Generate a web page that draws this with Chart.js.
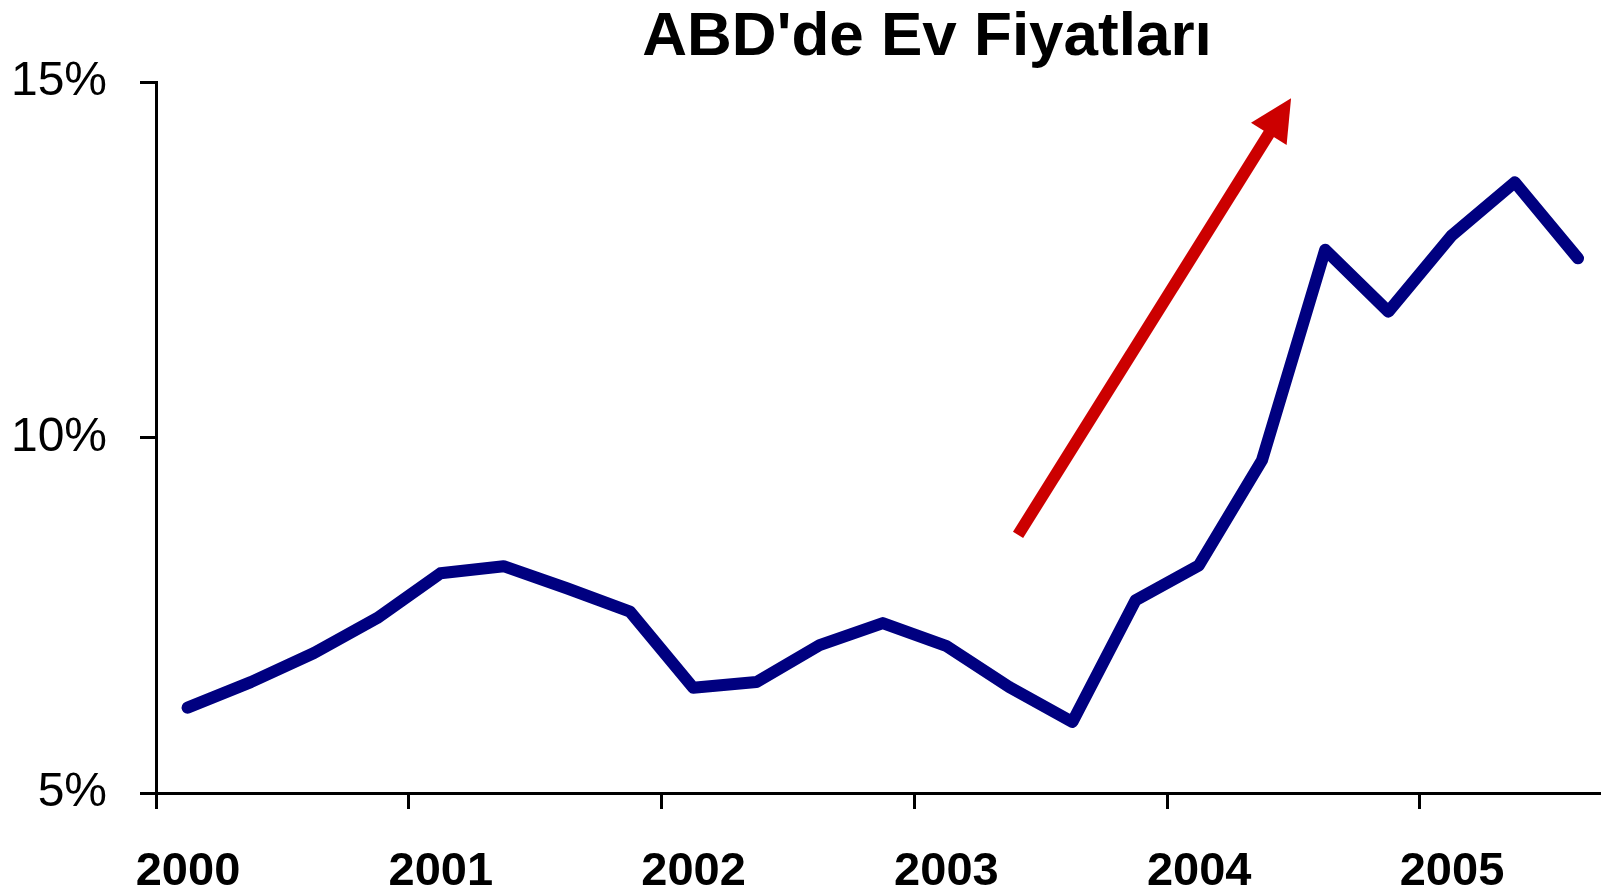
<!DOCTYPE html>
<html>
<head>
<meta charset="utf-8">
<script src="https://cdn.jsdelivr.net/npm/chart.js@4"></script>
<style>
  html, body { margin: 0; padding: 0; background: #fff; }
  #wrap { width: 1601px; height: 894px; }
</style>
</head>
<body>
<div id="wrap"><canvas id="mainChart" width="1601" height="894"></canvas></div>
<script>
const TITLE = "ABD'de Ev Fiyatları";

// quarterly observations, 2000 Q1 .. 2005 Q3
const quarters = [
  "2000 Q1", "2000 Q2", "2000 Q3", "2000 Q4",
  "2001 Q1", "2001 Q2", "2001 Q3", "2001 Q4",
  "2002 Q1", "2002 Q2", "2002 Q3", "2002 Q4",
  "2003 Q1", "2003 Q2", "2003 Q3", "2003 Q4",
  "2004 Q1", "2004 Q2", "2004 Q3", "2004 Q4",
  "2005 Q1", "2005 Q2", "2005 Q3"
];
const priceGrowth = [
  6.20, 6.56, 6.97, 7.46,
  8.09, 8.19, 7.88, 7.55,
  6.48, 6.56, 7.08, 7.39,
  7.07, 6.49, 6.00, 7.71,
  8.20, 9.68, 12.64, 11.77,
  12.84, 13.59, 12.52
];
const yearTicks = [2000, 2001, 2002, 2003, 2004, 2005];
const yTicks = [5, 10, 15];

// red trend arrow, in data units (year, %)
const arrowFrom = { x: 2003.41, y: 8.63 };
const arrowTo = { x: 2004.49, y: 14.77 };

// quarter label -> position in the middle of the quarter
function quarterToX(q) {
  const [yr, qq] = q.split(" Q");
  return Number(yr) + (Number(qq) - 0.5) / 4;
}

const points = quarters.map((q, i) => ({ x: quarterToX(q), y: priceGrowth[i] }));

const FONT = "'Liberation Sans', Arial, sans-serif";

const arrowPlugin = {
  id: "trendArrow",
  afterDatasetsDraw(chart) {
    const { ctx, scales } = chart;
    const x1 = scales.x.getPixelForValue(arrowFrom.x);
    const y1 = scales.y.getPixelForValue(arrowFrom.y);
    const x2 = scales.x.getPixelForValue(arrowTo.x);
    const y2 = scales.y.getPixelForValue(arrowTo.y);
    const ang = Math.atan2(y2 - y1, x2 - x1);
    const headLen = 42;
    const headHalf = 21;
    const bx = x2 - headLen * Math.cos(ang);
    const by = y2 - headLen * Math.sin(ang);

    ctx.save();
    ctx.strokeStyle = "#cc0000";
    ctx.fillStyle = "#cc0000";
    ctx.lineWidth = 12;
    ctx.lineCap = "butt";
    ctx.beginPath();
    ctx.moveTo(x1, y1);
    ctx.lineTo(bx + 2 * Math.cos(ang), by + 2 * Math.sin(ang));
    ctx.stroke();

    ctx.beginPath();
    ctx.moveTo(x2, y2);
    ctx.lineTo(bx + headHalf * Math.sin(ang), by - headHalf * Math.cos(ang));
    ctx.lineTo(bx - headHalf * Math.sin(ang), by + headHalf * Math.cos(ang));
    ctx.closePath();
    ctx.fill();
    ctx.restore();
  }
};

// title drawn by hand so it can sit right of centre like the original
const titlePlugin = {
  id: "offsetTitle",
  afterDraw(chart) {
    const { ctx, chartArea } = chart;
    ctx.save();
    ctx.font = "bold 62px " + FONT;
    ctx.fillStyle = "#000";
    ctx.textAlign = "center";
    ctx.textBaseline = "alphabetic";
    ctx.fillText(TITLE, chartArea.left + chartArea.width * 0.5336, 55);
    ctx.restore();
  }
};

const ctx = document.getElementById("mainChart").getContext("2d");

new Chart(ctx, {
  type: "line",
  data: {
    datasets: [{
      label: TITLE,
      data: points,
      borderColor: "#000080",
      backgroundColor: "#000080",
      borderWidth: 12,
      borderCapStyle: "round",
      borderJoinStyle: "round",
      pointRadius: 0,
      tension: 0,
      fill: false
    }]
  },
  plugins: [arrowPlugin, titlePlugin],
  options: {
    responsive: false,
    animation: false,
    layout: { padding: { top: 82, right: 0, bottom: 0, left: 0 } },
    plugins: {
      legend: { display: false },
      tooltip: { enabled: false },
      title: { display: false }
    },
    scales: {
      x: {
        type: "linear",
        min: 2000,
        max: 2005.716,
        afterBuildTicks: s => { s.ticks = yearTicks.map(v => ({ value: v })); },
        afterFit: s => { s.height = 101; },
        border: { display: true, color: "#000", width: 3 },
        grid: {
          drawOnChartArea: false,
          drawTicks: true,
          tickLength: 16,
          tickColor: "#000",
          tickWidth: 3
        },
        ticks: {
          color: "#000",
          font: { family: FONT, size: 47, weight: "bold" },
          padding: 35,
          labelOffset: 32,
          maxRotation: 0,
          autoSkip: false,
          callback: v => String(v)
        }
      },
      y: {
        min: 5,
        max: 15,
        afterBuildTicks: s => { s.ticks = yTicks.map(v => ({ value: v })); },
        afterFit: s => { s.width = 156; },
        border: { display: true, color: "#000", width: 3 },
        grid: {
          drawOnChartArea: false,
          drawTicks: true,
          tickLength: 16,
          tickColor: "#000",
          tickWidth: 3
        },
        ticks: {
          color: "#000",
          font: { family: FONT, size: 48 },
          padding: 33,
          callback: v => v + "%"
        }
      }
    }
  }
});
</script>
</body>
</html>
